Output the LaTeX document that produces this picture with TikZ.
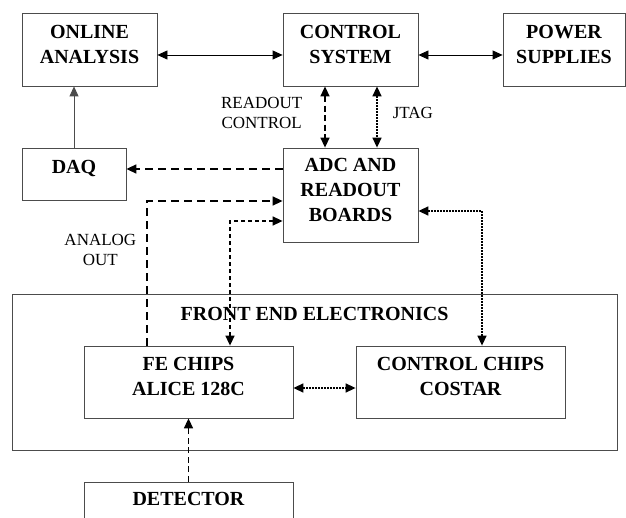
\documentclass[tikz,border=0pt]{standalone}
\usepackage{fontspec}
\setmainfont{Liberation Serif}
\usetikzlibrary{arrows.meta}

\definecolor{boxgray}{gray}{0.3}

\tikzset{
  >={Triangle[length=10pt,width=9pt]},
  blk/.style={draw=boxgray, line width=0.8pt, inner sep=0pt},
  btxt/.style={label={[font=\bfseries\fontsize{20}{25}\selectfont, align=center, inner sep=0pt, yshift=5.5pt]center:#1}},
  lbl/.style={font=\fontsize{17}{20}\selectfont, align=center, inner sep=0pt},
  solidln/.style={line width=0.8pt},
  dashln/.style={line width=1.5pt, dash pattern=on 8pt off 5pt},
  meddash/.style={line width=1.5pt, dash pattern=on 6pt off 3.5pt},
  finedash/.style={line width=1.5pt, dash pattern=on 4pt off 3pt},
  dotln/.style={line width=1.5pt, dash pattern=on 1.5pt off 1.5pt},
}

\begin{document}
\begin{tikzpicture}[x=1pt,y=-1pt]
  \useasboundingbox (0,0) rectangle (626,518);
  \clip (0,0) rectangle (626,518);

  % top row
  \node[blk, minimum width=135pt, minimum height=73pt, btxt={ONLINE\\ANALYSIS}] (online) at (89.5,49.5) {};
  \node[blk, minimum width=135pt, minimum height=73pt, btxt={CONTROL\\SYSTEM}] (control) at (350.5,49.5) {};
  \node[blk, minimum width=122pt, minimum height=73pt, btxt={POWER\\SUPPLIES}] (power) at (564,49.5) {};

  % middle row
  \node[blk, minimum width=104pt, minimum height=52pt, btxt={DAQ}] (daq) at (74,174) {};
  \node[blk, minimum width=135pt, minimum height=94pt, btxt={ADC AND\\READOUT\\BOARDS}] (adc) at (350.5,195) {};

  % front end
  \node[blk, minimum width=605pt, minimum height=156pt,
        label={[font=\bfseries\fontsize{20}{25}\selectfont, inner sep=0pt, anchor=north, yshift=-13pt]north:FRONT END ELECTRONICS}] (frontend) at (314.5,372) {};
  \node[blk, minimum width=209pt, minimum height=72pt, btxt={FE CHIPS\\ALICE 128C}] (fechips) at (188.5,382) {};
  \node[blk, minimum width=209pt, minimum height=72pt, btxt={CONTROL CHIPS\\COSTAR}] (ctrlchips) at (460.5,382) {};

  \node[blk, minimum width=209pt, minimum height=44pt, btxt={DETECTOR}] (detector) at (188.5,504) {};

  % connectors
  \draw[<->, solidln] ([yshift=-5.5pt]online.east) -- ([yshift=-5.5pt]control.west);
  \draw[<->, solidln] ([yshift=-5.5pt]control.east) -- ([yshift=-5.5pt]power.west);
  \draw[->, solidln, draw=boxgray] (daq.north) -- (daq.north |- online.south);
  \draw[<->, meddash] ([xshift=-25.5pt]control.south) -- node[lbl, anchor=east, xshift=-22pt, yshift=4pt] {READOUT\\CONTROL} ([xshift=-25.5pt]adc.north);
  \draw[<->, dotln] ([xshift=26.5pt]control.south) -- node[lbl, anchor=west, xshift=15pt, yshift=4pt] {JTAG} ([xshift=26.5pt]adc.north);
  \draw[->, dashln] ([yshift=26pt]adc.west) -- ([yshift=26pt]adc.west -| daq.east);
  \draw[->, dashln] ([xshift=-41.5pt]fechips.north) |- node[lbl, pos=0.33, anchor=east, xshift=-10pt] {ANALOG\\OUT} ([yshift=-6pt]adc.west);
  \draw[<->, finedash] ([yshift=-26pt]adc.west) -| ([xshift=41.5pt]fechips.north);
  \draw[<->, dotln] ([yshift=-16pt]adc.east) -| ([xshift=21.5pt]ctrlchips.north);
  \draw[<->, dotln] ([yshift=-6pt]fechips.east) -- ([yshift=-6pt]ctrlchips.west);
  \draw[->, meddash] (detector.north) -- (fechips.south);
\end{tikzpicture}
\end{document}
